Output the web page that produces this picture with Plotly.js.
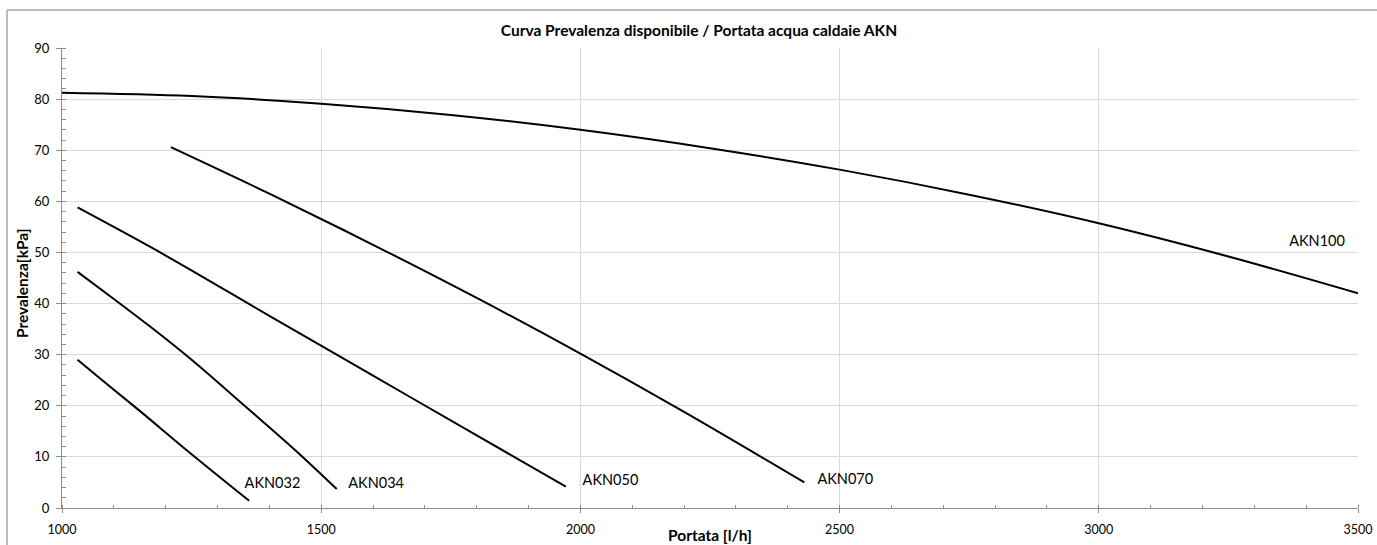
<!DOCTYPE html>
<html>
<head>
<meta charset="utf-8">
<script src="https://cdn.plot.ly/plotly-3.0.1.min.js"></script>
<style>
  html, body { margin: 0; padding: 0; background: #ffffff; }
  #chart { width: 1377px; height: 545px; }
</style>
</head>
<body>
<div id="chart"></div>
<script>
// ---- data ----
const akn032X = [1030, 1080, 1150, 1250, 1361];
const akn032Y = [29.0, 24.8, 19.0, 10.5, 1.4];

const akn034X = [1030, 1100, 1170, 1250, 1350, 1450, 1530];
const akn034Y = [46.2, 40.9, 35.5, 29.0, 20.2, 11.3, 3.7];

const akn050X = [1030, 1200, 1400, 1600, 1800, 1972];
const akn050Y = [58.8, 49.4, 37.6, 25.9, 14.2, 4.2];

const akn070X = [1210, 1400, 1600, 1800, 2000, 2200, 2432];
const akn070Y = [70.6, 61.5, 51.5, 41.1, 30.2, 18.8, 5.0];

const akn100X = [1000, 1250, 1500, 1750, 2000, 2250, 2500, 2750, 3000, 3250, 3500];
const akn100Y = [81.25, 80.6, 79.1, 76.9, 74.0, 70.4, 66.2, 61.3, 55.7, 49.2, 42.0];

const labelText = ["AKN032", "AKN034", "AKN050", "AKN070", "AKN100"];
const labelX = [1406, 1606, 2058, 2511, 3421];
const labelY = [4.7, 4.7, 5.15, 5.5, 52.0];

const xTicks = [1000, 1500, 2000, 2500, 3000, 3500];
const yTicks = [0, 10, 20, 30, 40, 50, 60, 70, 80, 90];

const chartTitle = "Curva Prevalenza disponibile / Portata acqua caldaie AKN";
const xTitle = "Portata [l/h]";
const yTitle = "Prevalenza[kPa]";

// ---- chart ----
const FONT = "Lato, 'Open Sans', 'DejaVu Sans', sans-serif";
const lineStyle = { color: "#000000", width: 2, shape: "spline", smoothing: 1 };

function curve(name, xs, ys) {
  return { type: "scatter", mode: "lines", name: name, x: xs, y: ys,
           line: lineStyle, hoverinfo: "x+y+name" };
}

const traces = [
  curve("AKN032", akn032X, akn032Y),
  curve("AKN034", akn034X, akn034Y),
  curve("AKN050", akn050X, akn050Y),
  curve("AKN070", akn070X, akn070Y),
  curve("AKN100", akn100X, akn100Y),
  { type: "scatter", mode: "text", x: labelX, y: labelY, text: labelText,
    textposition: "middle center", hoverinfo: "skip",
    textfont: { family: FONT, size: 14.5, color: "#000000" } }
];

const W = 1377, H = 545;
const ml = 62, mr = 19, mt = 48, mb = 37;
const pw = W - ml - mr, ph = H - mt - mb;
function px2paperX(p) { return (p - ml) / pw; }
function py2paperY(p) { return (H - mb - p) / ph; }

const layout = {
  width: W, height: H,
  margin: { l: ml, r: mr, t: mt, b: mb, pad: 0 },
  paper_bgcolor: "#ffffff", plot_bgcolor: "#ffffff",
  showlegend: false,
  font: { family: FONT, color: "#000000" },
  title: { text: "<b>" + chartTitle + "</b>", font: { family: FONT, size: 15.5, color: "#000000" },
           xref: "container", yref: "container", x: 699 / W, y: 1 - 31 / H,
           xanchor: "center", yanchor: "middle" },
  xaxis: {
    range: [1000, 3500], tickvals: xTicks, ticktext: xTicks.map(String),
    showgrid: true, gridcolor: "#d9d9d9", gridwidth: 1,
    showline: true, linecolor: "#8c8c8c", linewidth: 1,
    ticks: "outside", ticklen: 4, tickcolor: "#8c8c8c", tickwidth: 1,
    ticklabelstandoff: 6,
    tickfont: { family: FONT, size: 12.5, color: "#000000" },
    minor: { dtick: 100, ticks: "inside", ticklen: 3, tickcolor: "#8c8c8c", showgrid: false },
    zeroline: false, fixedrange: true
  },
  yaxis: {
    range: [0, 90], tickvals: yTicks, ticktext: yTicks.map(String),
    showgrid: true, gridcolor: "#d9d9d9", gridwidth: 1,
    showline: true, linecolor: "#8c8c8c", linewidth: 1,
    ticks: "outside", ticklen: 5, tickcolor: "#8c8c8c", tickwidth: 1,
    ticklabelstandoff: 4,
    tickfont: { family: FONT, size: 13, color: "#000000" },
    minor: { dtick: 2, ticks: "inside", ticklen: 4, tickcolor: "#8c8c8c", showgrid: false },
    zeroline: false, fixedrange: true
  },
  annotations: [
    { text: "<b>" + xTitle + "</b>", xref: "paper", yref: "paper",
      x: px2paperX(710), y: py2paperY(535), xanchor: "center", yanchor: "middle",
      showarrow: false, font: { family: FONT, size: 15.5, color: "#000000" } },
    { text: "<b>" + yTitle + "</b>", xref: "paper", yref: "paper", textangle: -90,
      x: px2paperX(22), y: py2paperY(283), xanchor: "center", yanchor: "middle",
      showarrow: false, font: { family: FONT, size: 15.5, color: "#000000" } }
  ],
  shapes: [
    { type: "line", xref: "paper", yref: "paper",
      x0: px2paperX(7), y0: py2paperY(10), x1: px2paperX(W + 5), y1: py2paperY(10),
      line: { color: "#a6a6a6", width: 1.5 } },
    { type: "line", xref: "paper", yref: "paper",
      x0: px2paperX(7), y0: py2paperY(10), x1: px2paperX(7), y1: py2paperY(H + 5),
      line: { color: "#a6a6a6", width: 1.5 } }
  ]
};

Plotly.newPlot("chart", traces, layout, { displayModeBar: false, staticPlot: true });
</script>
</body>
</html>
